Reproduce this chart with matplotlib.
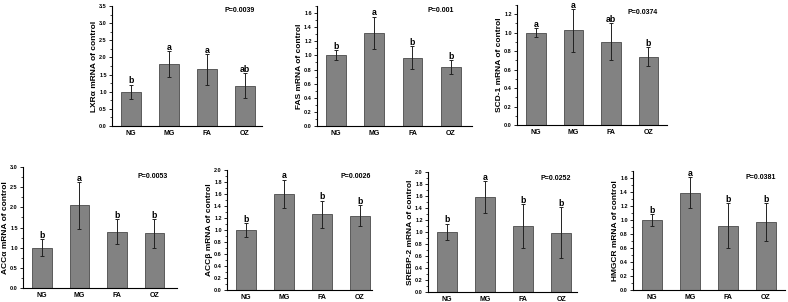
import matplotlib.pyplot as plt
from matplotlib.ticker import MultipleLocator, AutoMinorLocator

plt.rcParams['font.family'] = ['Liberation Sans', 'DejaVu Sans']
plt.rcParams['font.weight'] = 'bold'

# data
groups = ['NG', 'MG', 'FA', 'OZ']

genes = ['LXRα', 'FAS', 'SCD-1', 'ACCα', 'ACCβ', 'SREBP-2', 'HMGCR']
p_values = ['P=0.0039', 'P=0.001', 'P=0.0374', 'P=0.0053', 'P=0.0026', 'P=0.0252', 'P=0.0381']

lxr_mean = [1.0, 1.81, 1.65, 1.18]
lxr_err = [0.21, 0.38, 0.46, 0.37]
lxr_letters = ['b', 'a', 'a', 'ab']

fas_mean = [1.0, 1.32, 0.97, 0.83]
fas_err = [0.07, 0.23, 0.16, 0.10]
fas_letters = ['b', 'a', 'b', 'b']

scd_mean = [1.0, 1.025, 0.90, 0.74]
scd_err = [0.05, 0.23, 0.20, 0.10]
scd_letters = ['a', 'a', 'ab', 'b']

acca_mean = [1.0, 2.05, 1.40, 1.36]
acca_err = [0.21, 0.58, 0.32, 0.36]
acca_letters = ['b', 'a', 'b', 'b']

accb_mean = [1.0, 1.60, 1.26, 1.24]
accb_err = [0.12, 0.24, 0.23, 0.18]
accb_letters = ['b', 'a', 'b', 'b']

srebp_mean = [1.0, 1.58, 1.10, 0.99]
srebp_err = [0.14, 0.27, 0.37, 0.43]
srebp_letters = ['b', 'a', 'b', 'b']

hmgcr_mean = [1.0, 1.39, 0.92, 0.97]
hmgcr_err = [0.09, 0.22, 0.32, 0.27]
hmgcr_letters = ['b', 'a', 'b', 'b']

means = [lxr_mean, fas_mean, scd_mean, acca_mean, accb_mean, srebp_mean, hmgcr_mean]
errs = [lxr_err, fas_err, scd_err, acca_err, accb_err, srebp_err, hmgcr_err]
letters = [lxr_letters, fas_letters, scd_letters, acca_letters, accb_letters,
           srebp_letters, hmgcr_letters]

# axis ranges
y_tops = [3.5, 1.7, 1.3, 3.0, 2.0, 2.0, 1.7]
y_steps = [0.5, 0.2, 0.2, 0.5, 0.2, 0.2, 0.2]

# layout (pixels: left, right, top, bottom) and x-limits, p-text position
W, H = 788, 302
boxes = [(112, 262, 6, 126), (317, 472, 6, 126), (517, 667, 5, 125),
         (23, 177, 167, 288), (227, 372, 170, 290), (428, 577, 172, 292),
         (633, 785, 171, 290)]
x_right = [3.45, 3.56, 3.5, 3.6, 3.32, 3.41, 3.5]
p_pos = [(0.85, 0.99), (0.80, 0.99), (0.84, 0.97), (0.84, 0.95),
         (0.89, 0.975), (0.86, 0.975), (0.84, 0.975)]

fig = plt.figure(figsize=(W / 100, H / 100), dpi=100)

for i in range(7):
    l, r, t, b = boxes[i]
    ax = fig.add_axes([l / W, 1 - b / H, (r - l) / W, (b - t) / H])
    x = range(len(groups))
    ax.bar(x, means[i], width=0.52, color='#828282', edgecolor='#4a4a4a',
           linewidth=0.6, zorder=2)
    ax.errorbar(x, means[i], yerr=errs[i], fmt='none', ecolor='#222222',
                elinewidth=0.7, capsize=1.5, capthick=0.7, zorder=3)
    for j in x:
        ax.annotate(letters[i][j], (j, means[i][j] + errs[i][j]),
                    xytext=(0, 0.8), textcoords='offset points',
                    ha='center', va='baseline', fontsize=6.3, fontweight='bold',
                    annotation_clip=False)
    ax.text(p_pos[i][0], p_pos[i][1], p_values[i], transform=ax.transAxes,
            ha='center', va='top', fontsize=5, fontweight='bold')

    ax.set_xlim(-0.5, x_right[i])
    ax.set_ylim(0, y_tops[i])
    ax.set_xticks(list(x))
    ax.set_xticklabels(groups, fontsize=5, fontweight='bold')
    ax.tick_params(axis='x', length=0, pad=3)
    ax.yaxis.set_major_locator(MultipleLocator(y_steps[i]))
    ax.yaxis.set_minor_locator(AutoMinorLocator(2))
    ax.tick_params(axis='y', which='major', length=2.5, width=0.6,
                   labelsize=4, pad=1.2)
    ax.tick_params(axis='y', which='minor', length=1.3, width=0.5)
    ax.yaxis.set_major_formatter(plt.FormatStrFormatter('%.1f'))
    for lab in ax.get_yticklabels():
        lab.set_fontweight('bold')

    ax.spines['top'].set_visible(False)
    ax.spines['right'].set_visible(False)
    ax.spines['left'].set_linewidth(0.8)
    ax.spines['bottom'].set_linewidth(0.8)
    ax.set_ylabel(genes[i] + ' mRNA of control', fontsize=6, fontweight='bold',
                  labelpad=1)

fig.savefig('out.png', dpi=100)
